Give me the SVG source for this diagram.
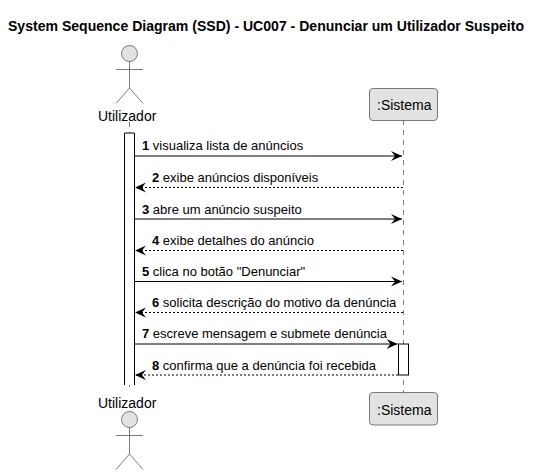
<svg xmlns="http://www.w3.org/2000/svg" width="541" height="475" viewBox="0 0 541 475">
<style>
text{font-family:"Liberation Sans",Arial,sans-serif;font-size:13px;fill:#000}
.title{font-size:14.05px;font-weight:bold}
.name{font-size:14px}
.n{font-weight:bold}
.life{stroke:#808080;stroke-width:1;stroke-dasharray:5 5;fill:none}
.box{fill:#e2e2e2;stroke:#5a5a5a;stroke-width:.8}
.act{fill:#fff;stroke:#000;stroke-width:1}
.stick{fill:none;stroke:#5a5a5a;stroke-width:.8}
.head{fill:#e2e2e2;stroke:#5a5a5a;stroke-width:.8}
.m{stroke:#000;stroke-width:1;fill:none}
.r{stroke:#000;stroke-width:1;fill:none;stroke-dasharray:2 2}
</style>
<defs>
<marker id="ar" markerUnits="userSpaceOnUse" markerWidth="14" markerHeight="12" refX="12" refY="6" orient="auto"><path d="M1 1L12 6L1 11L5 6Z" fill="#000"/></marker>
</defs>
<text class="title" x="8" y="31">System Sequence Diagram (SSD) - UC007 - Denunciar um Utilizador Suspeito</text>
<g id="lifelines">
<line class="life" x1="129.5" y1="122" x2="129.5" y2="392"/>
<line class="life" x1="403.5" y1="120" x2="403.5" y2="393"/>
</g>
<g id="activations">
<path class="act" d="M134.5 385V133H124.5V385" />
<rect class="act" x="398.5" y="344" width="10" height="31"/>
</g>
<g id="actor-top">
<circle class="head" cx="129.5" cy="53.5" r="8"/>
<path class="stick" d="M129.500 61.500V88M116 69.500H143M116 103.500L129.500 88L143 103.500"/>
<text class="name" x="98" y="120.500">Utilizador</text>
</g>
<g id="actor-bottom">
<text class="name" x="98" y="408">Utilizador</text>
<circle class="head" cx="129.5" cy="419.5" r="8"/>
<path class="stick" d="M129.500 427.500V454M116 435.500H143M116 469.500L129.500 454L143 469.500"/>
</g>
<g id="system-top">
<rect class="box" x="369.500" y="88.500" width="68" height="32" rx="3.5"/>
<text class="name" x="377" y="110">:Sistema</text>
</g>
<g id="system-bottom">
<rect class="box" x="369.500" y="392.500" width="68" height="32.500" rx="3.5"/>
<text class="name" x="377" y="415">:Sistema</text>
</g>
<g id="connectors">
<line class="m" x1="134.5" y1="156" x2="402" y2="156" marker-end="url(#ar)"/>
<line class="r" x1="403" y1="187.500" x2="135" y2="187.500" marker-end="url(#ar)"/>
<line class="m" x1="134.5" y1="219" x2="402" y2="219" marker-end="url(#ar)"/>
<line class="r" x1="403" y1="250.500" x2="135" y2="250.500" marker-end="url(#ar)"/>
<line class="m" x1="134.5" y1="281.500" x2="402" y2="281.500" marker-end="url(#ar)"/>
<line class="r" x1="403" y1="312.500" x2="135" y2="312.500" marker-end="url(#ar)"/>
<line class="m" x1="134.5" y1="344" x2="397.500" y2="344" marker-end="url(#ar)"/>
<line class="r" x1="398" y1="375" x2="135" y2="375" marker-end="url(#ar)"/>
</g>
<g id="labels">
<text x="142" y="150"><tspan class="n">1</tspan> visualiza lista de anúncios</text>
<text x="152" y="182"><tspan class="n">2</tspan> exibe anúncios disponíveis</text>
<text x="142" y="214"><tspan class="n">3</tspan> abre um anúncio suspeito</text>
<text x="152" y="245"><tspan class="n">4</tspan> exibe detalhes do anúncio</text>
<text x="142" y="276"><tspan class="n">5</tspan> clica no botão "Denunciar"</text>
<text x="152" y="307"><tspan class="n">6</tspan> solicita descrição do motivo da denúncia</text>
<text x="142" y="338"><tspan class="n">7</tspan> escreve mensagem e submete denúncia</text>
<text x="152" y="370"><tspan class="n">8</tspan> confirma que a denúncia foi recebida</text>
</g>
</svg>
